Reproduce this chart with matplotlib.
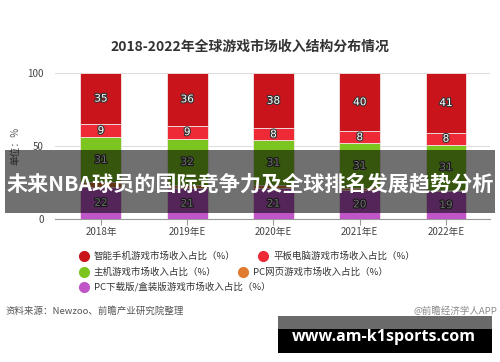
import matplotlib
matplotlib.use("Agg")
import matplotlib.pyplot as plt
import matplotlib.patheffects as pe
from matplotlib.patches import Rectangle
from matplotlib.lines import Line2D
import numpy as np

plt.rcParams['font.family'] = ['Noto Sans CJK SC', 'DejaVu Sans']

# DATA
years = ["2018年", "2019年E", "2020年E", "2021年E", "2022年E"]
pc_download = [22, 21, 21, 20, 19]
pc_web = [3, 2, 2, 1, 1]
console = [31, 32, 31, 31, 31]
tablet = [9, 9, 8, 8, 8]
smartphone = [35, 36, 38, 40, 41]

series_names = ["智能手机游戏市场收入占比（%）", "平板电脑游戏市场收入占比（%）",
                "主机游戏市场收入占比（%）", "PC网页游戏市场收入占比（%）",
                "PC下载版/盒装版游戏市场收入占比（%）"]
colors = {"smartphone": "#c8141a", "tablet": "#ee2a36", "console": "#7cc520",
          "pc_web": "#e07b30", "pc_download": "#c055c8"}

W, H = 500, 362
fig = plt.figure(figsize=(W / 100, H / 100), dpi=100)
fig.patch.set_facecolor("white")

def px(x, y):
    return x / W, 1 - y / H

# AXES (0 at y=219px, 100 at y=73px)
ax = fig.add_axes([55 / W, 1 - 219 / H, 435 / W, 146 / H])
x = np.arange(len(years))
width = 0.475
stack = [(pc_download, colors["pc_download"], True),
         (pc_web, colors["pc_web"], False),
         (console, colors["console"], True),
         (tablet, colors["tablet"], True),
         (smartphone, colors["smartphone"], True)]
bottom = np.zeros(len(years))
for vals, c, show in stack:
    vals = np.array(vals, dtype=float)
    ax.bar(x, vals, width, bottom=bottom, color=c, edgecolor="#f3e6e6", linewidth=0.6, zorder=3)
    if show:
        for xi, b, v in zip(x, bottom, vals):
            ax.text(xi, b + v / 2, f"{int(v)}", ha="center", va="center", fontsize=7.5,
                    color="white", zorder=4, family="DejaVu Sans",
                    path_effects=[pe.withStroke(linewidth=1.6, foreground="#333333")])
    bottom += vals

ax.set_xlim(-0.533, 4.51)
ax.set_ylim(0, 100)
ax.set_yticks([0, 50, 100])
ax.tick_params(axis="y", length=0, labelsize=7, colors="#444444", pad=8)
ax.set_xticks(x)
ax.set_xticklabels(years)
ax.tick_params(axis="x", length=4, labelsize=7, colors="#444444", color="#999999", pad=2)
ax.grid(axis="y", color="#dddddd", linewidth=0.8, zorder=0)
for s in ["top", "right", "left"]:
    ax.spines[s].set_visible(False)
ax.spines["bottom"].set_color("#999999")
ax.set_facecolor("white")

fig.text(*px(15, 146), "单位：%", rotation=90, ha="center", va="center", fontsize=7, color="#555555")

# TITLE
fig.text(*px(250, 47), "2018-2022年全球游戏市场收入结构分布情况", ha="center", va="center",
         fontsize=10, fontweight="bold", color="#333333")

# LEGEND
leg_colors = [colors["smartphone"], colors["tablet"], colors["console"], colors["pc_web"], colors["pc_download"]]
leg_pos = [(84, 256), (263, 256), (84, 272), (243, 272), (84, 287)]
for name, c, (lx, ly) in zip(series_names, leg_colors, leg_pos):
    fig.add_artist(Line2D([lx / W], [1 - ly / H], marker="o", markersize=7, color=c,
                          linestyle="none", transform=fig.transFigure))
    fig.text(*px(lx + 10, ly), name, ha="left", va="center", fontsize=6.8, color="#333333")

# SOURCE
fig.text(*px(5, 311), "资料来源：Newzoo、前瞻产业研究院整理", ha="left", va="center", fontsize=6.8, color="#555555")
fig.text(*px(497, 311), "@前瞻经济学人APP", ha="right", va="center", fontsize=6.8, color="#888888")

# OVERLAY BAND
fig.add_artist(Rectangle(px(5, 213), 490 / W, 63 / H, transform=fig.transFigure,
                         facecolor="black", alpha=0.56, edgecolor="none", zorder=10))
fig.text(*px(250, 184), "未来NBA球员的国际竞争力及全球排名发展趋势分析", ha="center", va="center",
         fontsize=15.2, fontweight="bold", color="white", zorder=11)

# WATERMARK BOX
fig.add_artist(Rectangle(px(278, 329), 214 / W, 13 / H, transform=fig.transFigure,
                         facecolor="#6a6a6a", edgecolor="none", zorder=10))
fig.add_artist(Rectangle(px(278, 353), 214 / W, 24 / H, transform=fig.transFigure,
                         facecolor="black", edgecolor="none", zorder=10))
fig.text(*px(384, 337), "www.am-k1sports.com", ha="center", va="center", fontsize=11.5,
         fontweight="bold", color="white", family="Open Sans", zorder=11)

fig.savefig("out.png", dpi=100)
